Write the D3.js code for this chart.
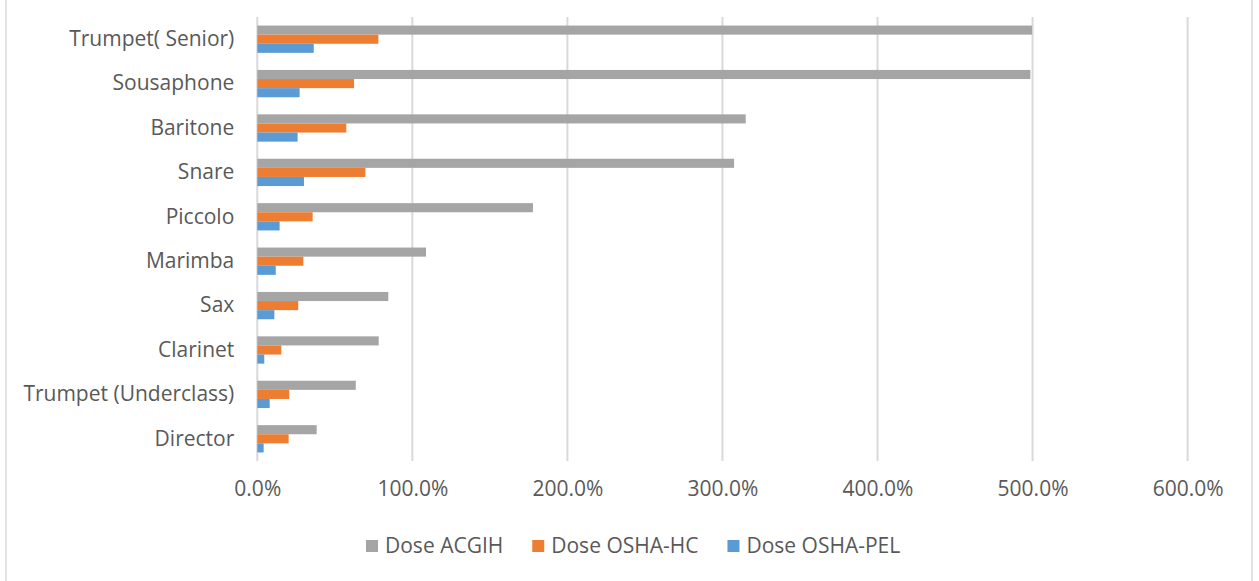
<!DOCTYPE html>
<html>
<head>
<meta charset="utf-8">
<script src="https://cdn.jsdelivr.net/npm/d3@7"></script>
<style>
  body { margin: 0; background: #fff; }
  text { font-family: "Open Sans", sans-serif; fill: #595959; }
</style>
</head>
<body>
<div id="chart"></div>
<script>
// categories top to bottom
var categories = ["Trumpet( Senior)", "Sousaphone", "Baritone", "Snare", "Piccolo",
  "Marimba", "Sax", "Clarinet", "Trumpet (Underclass)", "Director"]

// dose values in percent
var doseACGIH = [499.7, 498.6, 315, 307.5, 177.8, 108.8, 84.5, 78.3, 63.5, 38.3]
var doseOSHAHC = [78.1, 62.4, 57.4, 69.7, 35.7, 29.7, 26.4, 15.5, 20.6, 20.2]
var doseOSHAPEL = [36.4, 27.3, 26, 30.1, 14.4, 11.9, 11, 4.5, 8, 4.1]

var seriesNames = ["Dose ACGIH", "Dose OSHA-HC", "Dose OSHA-PEL"]
var seriesColors = ["#a5a5a5", "#ed7d31", "#5b9bd5"]
var xTicks = [0, 100, 200, 300, 400, 500, 600]

var width = 1259, height = 581
var fontSize = "21px"

var svg = d3.select("#chart").append("svg")
  .attr("width", width)
  .attr("height", height)

// chart frame
svg.append("rect")
  .attr("x", 6).attr("y", -5)
  .attr("width", 1246).attr("height", 600)
  .attr("fill", "none")
  .attr("stroke", "#d9d9d9")
  .attr("stroke-width", 1.5)

var x = d3.scaleLinear().domain([0, 600]).range([257.3, 1187.6])
var y = d3.scaleBand().domain(categories).range([17, 461]).paddingInner(0.385).paddingOuter(0.1925)
var ySub = d3.scaleBand().domain(seriesNames).range([0, y.bandwidth()])

// gridlines
svg.append("g").selectAll("line")
  .data(xTicks)
  .enter().append("line")
  .attr("x1", function(d) { return x(d) })
  .attr("x2", function(d) { return x(d) })
  .attr("y1", 17).attr("y2", 461)
  .attr("stroke", "#d9d9d9")
  .attr("stroke-width", 2)

// rows of data per category
var rows = categories.map(function(c, i) {
  return [
    {name: seriesNames[0], value: doseACGIH[i]},
    {name: seriesNames[1], value: doseOSHAHC[i]},
    {name: seriesNames[2], value: doseOSHAPEL[i]}
  ]
})

var group = svg.append("g").selectAll("g")
  .data(rows)
  .enter().append("g")
  .attr("transform", function(d, i) { return "translate(0," + y(categories[i]) + ")" })

group.selectAll("rect")
  .data(function(d) { return d })
  .enter().append("rect")
  .attr("x", x(0))
  .attr("y", function(d) { return ySub(d.name) })
  .attr("width", function(d) { return x(d.value) - x(0) })
  .attr("height", ySub.bandwidth())
  .attr("fill", function(d, i) { return seriesColors[i] })

// category axis
var yAxis = svg.append("g")
  .attr("transform", "translate(" + x(0) + ",0)")
  .call(d3.axisLeft(y).tickSize(0).tickPadding(23))
yAxis.select(".domain").remove()
yAxis.selectAll("text").style("font-size", fontSize).attr("fill", "#595959")

// value axis labels
var xAxis = svg.append("g")
  .attr("transform", "translate(0,461)")
  .call(d3.axisBottom(x).tickValues(xTicks).tickSize(0).tickPadding(20)
    .tickFormat(function(d) { return d.toFixed(1) + "%" }))
xAxis.select(".domain").remove()
xAxis.selectAll("text").style("font-size", fontSize).attr("fill", "#595959")

// legend
var legend = svg.append("g").attr("transform", "translate(366,546)")
var lx = 0
seriesNames.forEach(function(name, i) {
  var item = legend.append("g").attr("transform", "translate(" + lx + ",0)")
  item.append("rect")
    .attr("x", 0).attr("y", -6)
    .attr("width", 12).attr("height", 12)
    .attr("fill", seriesColors[i])
  var t = item.append("text")
    .attr("x", 19).attr("dy", "0.35em")
    .style("font-size", fontSize)
    .text(name)
  lx += 19 + t.node().getComputedTextLength() + 29
})
</script>
</body>
</html>
